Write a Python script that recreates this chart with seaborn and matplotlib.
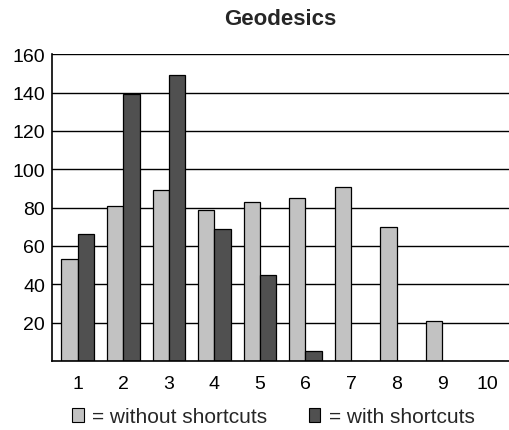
import matplotlib
matplotlib.use("Agg")
import matplotlib.pyplot as plt
import pandas as pd
import seaborn as sns
from matplotlib.patches import Patch

categories = ["1", "2", "3", "4", "5", "6", "7", "8", "9", "10"]
without_shortcuts = [53, 81, 89, 79, 83, 85, 91, 70, 21, 0]
with_shortcuts = [66, 139, 149, 69, 45, 5, 0, 0, 0, 0]
series_names = ["without shortcuts", "with shortcuts"]
y_ticks = [20, 40, 60, 80, 100, 120, 140, 160]

df = pd.DataFrame({
    "step": categories * 2,
    "count": without_shortcuts + with_shortcuts,
    "series": [series_names[0]] * len(categories) + [series_names[1]] * len(categories),
})

sns.set_theme(style="white")
plt.rcParams["font.family"] = ["Liberation Sans", "DejaVu Sans"]

colors = {"without shortcuts": "#c2c2c2", "with shortcuts": "#505050"}

fig = plt.figure(figsize=(5.09, 4.31), dpi=100)
ax = fig.add_axes([0.102, 0.160, 0.898, 0.712])

ax.yaxis.grid(True, color="black", linewidth=1.0)
ax.set_axisbelow(True)

sns.barplot(
    data=df, x="step", y="count", hue="series", order=categories,
    hue_order=series_names, palette=colors, width=0.72, gap=0,
    edgecolor="black", linewidth=0.9, legend=False, ax=ax,
)

ax.set_ylim(0, 160)
ax.set_xlim(-0.57, 9.47)
ax.set_yticks(y_ticks)
ax.set_xlabel("")
ax.set_ylabel("")
ax.tick_params(axis="both", length=0, labelsize=14, colors="black")
ax.tick_params(axis="x", pad=10)
ax.tick_params(axis="y", pad=5)
for side in ["top", "right"]:
    ax.spines[side].set_visible(False)
for side in ["left", "bottom"]:
    ax.spines[side].set_color("black")
    ax.spines[side].set_linewidth(1.2)

ax.set_title("Geodesics", fontsize=16, fontweight="bold", pad=22)

handles = [Patch(facecolor=colors[s], edgecolor="black", linewidth=0.8) for s in series_names]
fig.legend(
    handles, ["= " + s for s in series_names], loc="lower left",
    bbox_to_anchor=(0.105, -0.035), ncol=2, frameon=False, fontsize=15,
    handlelength=0.55, handleheight=0.7, handletextpad=0.4, columnspacing=2.0,
)

plt.savefig("out.png", dpi=100)
plt.close()
